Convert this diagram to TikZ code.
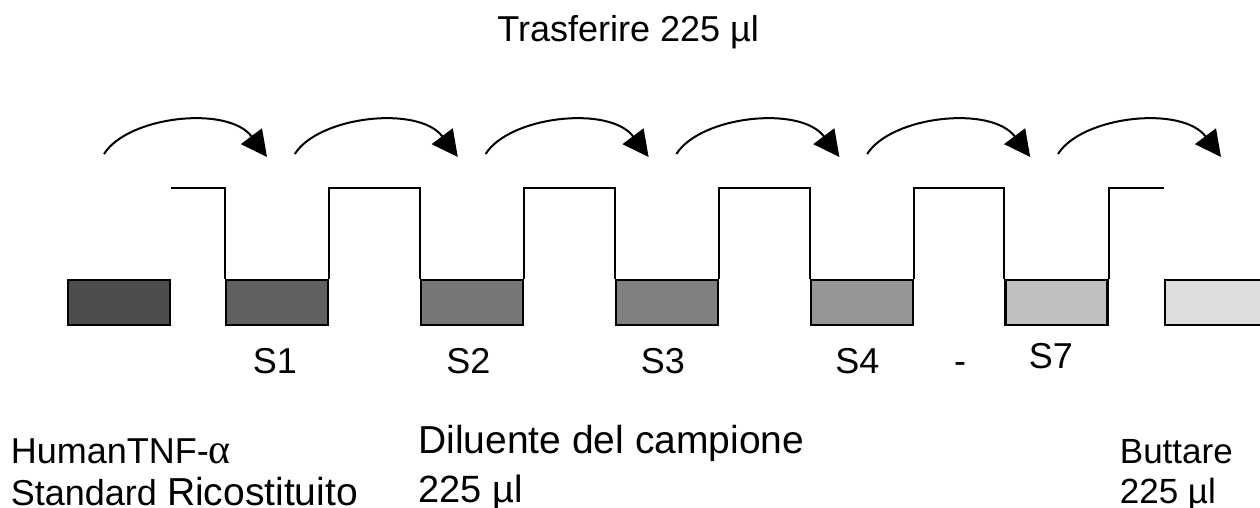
\documentclass[tikz,border=0pt]{standalone}
\usepackage{fontspec}
\setmainfont{Liberation Sans}
\newfontfamily\grkfont{Liberation Serif}
\usetikzlibrary{arrows.meta,calc}
\definecolor{tb0}{HTML}{4D4D4D}
\definecolor{tb1}{HTML}{606060}
\definecolor{tb2}{HTML}{777777}
\definecolor{tb3}{HTML}{808080}
\definecolor{tb4}{HTML}{969696}
\definecolor{tb5}{HTML}{C0C0C0}
\definecolor{tb6}{HTML}{DDDDDD}
\begin{document}
\begin{tikzpicture}[x=0.5pt,y=-0.5pt,
  tube/.style={draw=black, line width=1.1pt, minimum width=51pt, minimum height=22.5pt, inner sep=0pt},
  wave/.style={line width=1pt, line join=miter},
  hop/.style={line width=1pt, -{Triangle[length=13pt,width=13pt]}},
  lbl/.style={inner sep=0pt, anchor=base west, font=\fontsize{18pt}{21pt}\selectfont},
  lblc/.style={inner sep=0pt, anchor=base, font=\fontsize{18pt}{21pt}\selectfont}]
\useasboundingbox (0,0) rectangle (1260,508);
\clip (0,0) rectangle (1260,508);
% tubes
\node[tube, fill=tb0] (b0) at (119,302.5) {};
\node[tube, fill=tb1] (b1) at (277,302.5) {};
\node[tube, fill=tb2] (b2) at (472,302.5) {};
\node[tube, fill=tb3] (b3) at (667,302.5) {};
\node[tube, fill=tb4] (b4) at (862,302.5) {};
\node[tube, fill=tb5] (b5) at (1056.5,302.5) {};
\node[tube, fill=tb6] (b6) at (1216,302.5) {};
% wave line
\coordinate (top) at (0,188);
\draw[wave] (b0.north east |- top) -- (b1.north west |- top) -- (b1.north west);
\draw[wave] (b1.north east) -- (b1.north east |- top) -- (b2.north west |- top) -- (b2.north west);
\draw[wave] (b2.north east) -- (b2.north east |- top) -- (b3.north west |- top) -- (b3.north west);
\draw[wave] (b3.north east) -- (b3.north east |- top) -- (b4.north west |- top) -- (b4.north west);
\draw[wave] (b4.north east) -- (b4.north east |- top) -- (b5.north west |- top) -- (b5.north west);
\draw[wave] (b5.north east) -- (b5.north east |- top) -- (b6.north west |- top);
% transfer arcs
\foreach \i in {0,...,5}{
  \pgfmathsetmacro{\s}{104+190.8*\i}
  \coordinate (a\i) at (\s,154);
  \coordinate (t\i) at (\s+163,157);
  \draw[hop] (a\i) .. controls ($(a\i)+(24,-38)$) and ($(t\i)+(-39,-52)$) .. (t\i);
}
% labels
\node[lbl] (ttl) at (497,41.7) {Trasferire 225 µl};
\node[lbl] (s1) at (252.5,373) {S1};
\node[lbl] (s2) at (446,373) {S2};
\node[lbl] (s3) at (640.5,373) {S3};
\node[lbl] (s4) at (835,373) {S4};
\node[lblc] (dash) at (960,373) {-};
\node[lbl] (s7) at (1028.5,368) {S7};
\node[lbl] (h1) at (10.5,463.5) {HumanTNF-{\grkfont\fontsize{21pt}{24pt}\selectfont α}};
\node[lbl] (h2) at (10.5,505) {Standard {\fontsize{19.5pt}{23pt}\selectfont Ricostituito}};
\node[lbl, font=\fontsize{19.5pt}{22pt}\selectfont] (d1) at (418,453) {Diluente del campione};
\node[lbl, font=\fontsize{19pt}{22pt}\selectfont] (d2) at (418,502) {225 µl};
\node[lbl, font=\fontsize{17.5pt}{20pt}\selectfont] (u1) at (1119.5,463) {Buttare};
\node[lbl, font=\fontsize{17.5pt}{20pt}\selectfont] (u2) at (1119.5,503) {225 µl};
\end{tikzpicture}
\end{document}
